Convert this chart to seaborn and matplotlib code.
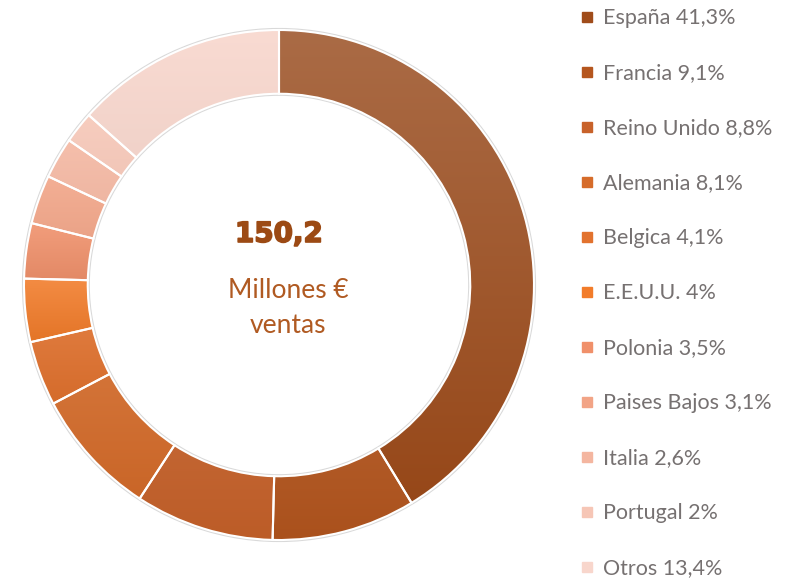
import matplotlib.pyplot as plt
import matplotlib.colors as mcolors
import matplotlib.patheffects as pe
import numpy as np
import seaborn as sns
from matplotlib.lines import Line2D

# datos del grafico
paises = ["España", "Francia", "Reino Unido", "Alemania", "Belgica", "E.E.U.U.",
          "Polonia", "Paises Bajos", "Italia", "Portugal", "Otros"]
porcentajes = [41.3, 9.1, 8.8, 8.1, 4.1, 4, 3.5, 3.1, 2.6, 2, 13.4]
textos_pct = ["41,3%", "9,1%", "8,8%", "8,1%", "4,1%", "4%", "3,5%", "3,1%", "2,6%", "2%", "13,4%"]
colores = ["#A04C1A", "#B5561E", "#C8622A", "#D66C2A", "#E2722E", "#F27C2A",
           "#F0906A", "#F2A486", "#F4B6A0", "#F6C6B6", "#F8D6CC"]
total_ventas = "150,2"
subtitulo = ["Millones €", "ventas"]

sns.set_theme(style="white")
plt.rcParams['font.family'] = ['Lato', 'DejaVu Sans']

fig = plt.figure(figsize=(8.05, 5.81), dpi=100)
fig.patch.set_facecolor("white")

# donut: centro en (279, 285) px, radio 255 px
cx, cy, R, L = 279, 285, 255, 1.06
ax = fig.add_axes([(cx - R * L) / 805, (581 - cy - R * L) / 581, 2 * R * L / 805, 2 * R * L / 581])

# sombra suave del anillo
ax.add_patch(plt.Circle((0, 0), 1.0, fill=False, edgecolor="#d9d9d9", lw=3, zorder=0))
ax.add_patch(plt.Circle((0, 0), 0.75, fill=False, edgecolor="#d9d9d9", lw=3, zorder=0))

wedges, _ = ax.pie(porcentajes, colors=colores, startangle=90, counterclock=False,
                   radius=1, wedgeprops=dict(width=0.25, edgecolor="white", linewidth=1.5))


def mezcla(c, otro, t):
    a = np.array(mcolors.to_rgb(c))
    b = np.array(mcolors.to_rgb(otro))
    return tuple(a * (1 - t) + b * t)


# degradado vertical dentro de cada sector (estilo Excel)
grad = np.linspace(0, 1, 256).reshape(-1, 1)
for i, (w, c) in enumerate(zip(wedges, colores)):
    v = w.get_path().vertices
    x0, x1 = v[:, 0].min(), v[:, 0].max()
    y0, y1 = v[:, 1].min(), v[:, 1].max()
    arriba = mezcla(c, "#c8c8c8", 0.25) if i == 0 else mezcla(c, "white", 0.12)
    cmap = mcolors.LinearSegmentedColormap.from_list("g", [arriba, mezcla(c, "black", 0.06)])
    im = ax.imshow(grad, extent=[x0, x1, y0, y1], origin="upper", cmap=cmap,
                   aspect="auto", zorder=1, interpolation="bilinear")
    im.set_clip_path(w)
    w.set_facecolor("none")
    w.set_zorder(2)

ax.set_xlim(-L, L)
ax.set_ylim(-L, L)
ax.set_aspect("equal")
ax.axis("off")

# texto central
ax.text(0.0, 0.2, total_ventas, ha="center", va="center", fontsize=20,
        fontweight="heavy", color="#9C4A14", family="DejaVu Sans",
        path_effects=[pe.withStroke(linewidth=1.2, foreground="#9C4A14")])
ax.text(0.035, -0.02, subtitulo[0], ha="center", va="center", fontsize=19, color="#B05A22")
ax.text(0.035, -0.16, subtitulo[1], ha="center", va="center", fontsize=19, color="#B05A22")

# leyenda
handles = [Line2D([0], [0], marker="s", linestyle="none", markersize=7.5,
                  markerfacecolor=c, markeredgecolor=c) for c in colores]
labels = [f"{p} {t}" for p, t in zip(paises, textos_pct)]
fig.legend(handles, labels, loc="upper left", bbox_to_anchor=(580 / 805, 1 - 8.4 / 581),
           frameon=False, fontsize=15.5, labelcolor="#767171", handlelength=0.65,
           handletextpad=0.4, labelspacing=1.625, borderpad=0, borderaxespad=0)

fig.savefig("out.png", dpi=100, facecolor="white")
